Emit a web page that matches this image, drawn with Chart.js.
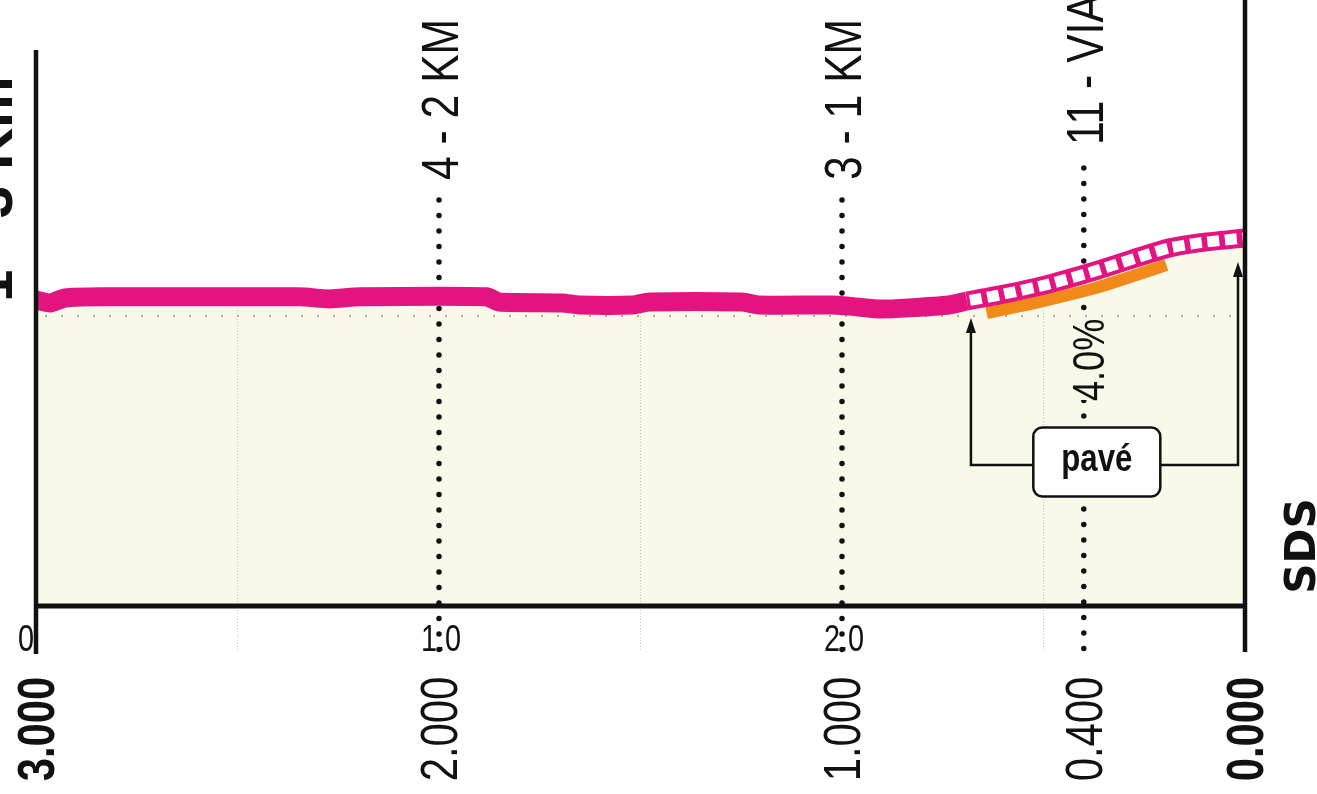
<!DOCTYPE html>
<html>
<head>
<meta charset="utf-8">
<script src="https://cdn.jsdelivr.net/npm/chart.js@4.4.1/dist/chart.umd.min.js"></script>
<style>
  html, body { margin: 0; padding: 0; background: #ffffff; }
  #wrap { width: 1317px; height: 794px; position: relative; }
</style>
</head>
<body>
<div id="wrap"><canvas id="c"></canvas></div>
<script>
// ---- data (distance from start in km, elevation in m) ----
const distKm = [0.000, 0.035, 0.072, 0.159, 0.654, 0.729, 0.803, 1.118, 1.150, 1.306, 1.348, 1.480, 1.522, 1.752, 1.794, 1.975, 2.017, 2.092, 2.166, 2.265, 2.310, 2.389, 2.513, 2.637, 2.761, 2.810, 2.885, 3.000];
const elevM  = [105.5, 104.5, 106.2, 106.6, 106.6, 105.9, 106.6, 106.6, 104.8, 104.5, 103.8, 103.8, 104.8, 104.8, 103.8, 103.8, 103.4, 102.4, 102.8, 103.8, 105.2, 107.2, 111.0, 115.9, 121.4, 123.4, 125.2, 126.9];
const paveStartIdx = 20;                       // cobbles (pavé) from this point to the finish
const gradeKm   = [2.359, 2.488, 2.637, 2.805];  // gradient indicator segment
const gradeElev = [101.0, 104.8, 110.0, 117.6];
const gradeText = "4.0%";
const paveText  = "pavé";
const markerKm     = [1.0, 2.0, 2.6];
const markerLabels = ["4 - 2 KM", "3 - 1 KM", "11 - VIA"];
const toGoKm       = [3.0, 2.0, 1.0, 0.4, 0.0];
const kmTickValues = [0, 1, 2];
const kmTickLabels = ["0", "1.0", "2.0"];
const halfKmGrid   = [0.5, 1.5, 2.5];
const elevGridLine = 100;
const totalKm = 3.0;
const sideTitle = "1 - 3 Km";
const logoText  = "SDS";

// ---- colours ----
const MAGENTA = '#e3137f';
const ORANGE  = '#f28a1a';
const CREAM   = '#f9f9e9';

const pts = (xs, ys) => xs.map((x, i) => ({ x: x, y: ys[i] }));
const allPts   = pts(distKm, elevM);
const solidPts = allPts.slice(0, paveStartIdx + 1);
const pavePts  = allPts.slice(paveStartIdx);
const gradePts = pts(gradeKm, gradeElev);

const SANS = "'Liberation Sans', Arial, sans-serif";
const NARROW = 0.82;   // horizontal condensing factor (narrow face)

function rotText(ctx, text, x, y, font, align, cond) {
  ctx.save();
  ctx.translate(x, y);
  ctx.rotate(-Math.PI / 2);
  ctx.scale(cond, 1);
  ctx.font = font;
  ctx.fillStyle = '#111';
  ctx.textAlign = align;
  ctx.textBaseline = 'alphabetic';
  ctx.fillText(text, 0, 0);
  ctx.restore();
}

function flatText(ctx, text, x, y, font, align, cond) {
  ctx.save();
  ctx.translate(x, y);
  ctx.scale(cond, 1);
  ctx.font = font;
  ctx.fillStyle = '#111';
  ctx.textAlign = align;
  ctx.textBaseline = 'middle';
  ctx.fillText(text, 0, 0);
  ctx.restore();
}

function dotted(ctx, x1, y1, x2, y2, width, gap, color) {
  ctx.save();
  ctx.beginPath();
  ctx.setLineDash([0, gap]);
  ctx.lineCap = 'round';
  ctx.lineWidth = width;
  ctx.strokeStyle = color;
  ctx.moveTo(x1, y1);
  ctx.lineTo(x2, y2);
  ctx.stroke();
  ctx.restore();
}

function arrowUp(ctx, x, yTip) {
  ctx.beginPath();
  ctx.moveTo(x, yTip);
  ctx.lineTo(x - 5, yTip + 15);
  ctx.lineTo(x + 5, yTip + 15);
  ctx.closePath();
  ctx.fill();
}

const decor = {
  id: 'decor',
  afterDatasetDraw(chart, args) {
    if (args.index !== 0) return;            // right after the cream fill
    const ctx = chart.ctx, xs = chart.scales.x, ys = chart.scales.y;
    const yBase = ys.getPixelForValue(0);
    const gy = ys.getPixelForValue(elevGridLine);
    dotted(ctx, xs.getPixelForValue(0) + 10, gy, xs.getPixelForValue(totalKm) - 4, gy, 2.2, 16, '#9a9a90');
    halfKmGrid.forEach(k => {
      const x = xs.getPixelForValue(k);
      ctx.save();
      ctx.setLineDash([1, 2]);
      ctx.lineWidth = 1;
      ctx.strokeStyle = '#c4c4bc';
      ctx.beginPath();
      ctx.moveTo(x, gy - 6);
      ctx.lineTo(x, yBase + 46);
      ctx.stroke();
      ctx.restore();
    });
    markerKm.forEach((k, i) => {
      const x = xs.getPixelForValue(k);
      const top = i === 2 ? 168 : 200;
      dotted(ctx, x, top, x, yBase + 46, 5.5, 15.5, '#111');
    });
  },
  afterDatasetsDraw(chart) {
    const ctx = chart.ctx, xs = chart.scales.x, ys = chart.scales.y;
    const x0 = xs.getPixelForValue(0), x1 = xs.getPixelForValue(totalKm);
    const yBase = ys.getPixelForValue(0);
    ctx.save();
    ctx.strokeStyle = '#111';
    ctx.lineCap = 'butt';
    ctx.lineWidth = 5;
    ctx.beginPath(); ctx.moveTo(x0 - 2, yBase); ctx.lineTo(x1 + 2, yBase); ctx.stroke();
    ctx.lineWidth = 4.5;
    ctx.beginPath(); ctx.moveTo(x0, 50); ctx.lineTo(x0, yBase + 48); ctx.stroke();
    ctx.beginPath(); ctx.moveTo(x1, 0); ctx.lineTo(x1, yBase + 46); ctx.stroke();
    ctx.restore();

    // gradient label on a cream patch hiding the dotted line
    const gx = xs.getPixelForValue(markerKm[2]);
    ctx.save();
    ctx.fillStyle = CREAM;
    ctx.fillRect(gx - 10, 318, 26, 82);
    ctx.restore();
    rotText(ctx, gradeText, gx + 20, 401, "44px " + SANS, 'left', NARROW);

    // pavé box and arrows
    const bx = gx + 13, by = 462, bw = 127, bh = 69;
    const lx = xs.getPixelForValue(distKm[paveStartIdx]) + 4;
    const rx = x1 - 7;
    const leftTip = ys.getPixelForValue(99.3), rightTip = ys.getPixelForValue(118.6);
    ctx.save();
    ctx.strokeStyle = '#111';
    ctx.fillStyle = '#111';
    ctx.lineWidth = 2.5;
    ctx.beginPath();
    ctx.moveTo(bx - bw / 2, by + 3); ctx.lineTo(lx, by + 3); ctx.lineTo(lx, leftTip + 10);
    ctx.moveTo(bx + bw / 2, by + 3); ctx.lineTo(rx, by + 3); ctx.lineTo(rx, rightTip + 10);
    ctx.stroke();
    arrowUp(ctx, lx, leftTip);
    arrowUp(ctx, rx, rightTip);
    ctx.beginPath();
    ctx.roundRect(bx - bw / 2, by - bh / 2, bw, bh, 9);
    ctx.fillStyle = '#ffffff';
    ctx.fill();
    ctx.lineWidth = 2.5;
    ctx.stroke();
    ctx.restore();
    flatText(ctx, paveText, bx, by - 1, "bold 38px " + SANS, 'center', NARROW);
  },
  afterDraw(chart) {
    const ctx = chart.ctx, xs = chart.scales.x, ys = chart.scales.y;
    const yBase = ys.getPixelForValue(0);
    markerKm.forEach((k, i) => {
      const x = xs.getPixelForValue(k);
      const bottom = i === 2 ? 145 : 180;
      rotText(ctx, markerLabels[i], x + 19, bottom, "52px " + SANS, 'left', NARROW);
    });
    kmTickValues.forEach((k, i) => {
      const x = xs.getPixelForValue(k);
      if (k === 0) flatText(ctx, kmTickLabels[i], x - 2, yBase + 35, "37px " + SANS, 'right', 0.78);
      else flatText(ctx, kmTickLabels[i], x + 2, yBase + 35, "37px " + SANS, 'center', 0.78);
    });
    toGoKm.forEach((t, i) => {
      const x = xs.getPixelForValue(totalKm - t);
      const bold = (i === 0 || i === toGoKm.length - 1);
      rotText(ctx, t.toFixed(3), x + 18, 729, (bold ? "bold " : "") + "51px " + SANS, 'center', NARROW);
    });
    rotText(ctx, sideTitle, 12, 302, "bold 58px " + SANS, 'left', 1);
    rotText(ctx, logoText, 1315, 546, "bold 42px 'DejaVu Sans', sans-serif", 'center', 1);
  }
};

new Chart(document.getElementById('c'), {
  type: 'line',
  data: {
    datasets: [
      { label: 'fill', data: allPts, borderWidth: 0, borderColor: 'rgba(0,0,0,0)', backgroundColor: CREAM, fill: 'origin', order: 5, tension: 0.2 },
      { label: 'grade', data: gradePts, borderColor: ORANGE, borderWidth: 12, fill: false, order: 4, tension: 0.2, borderCapStyle: 'butt' },
      { label: 'road', data: solidPts, borderColor: MAGENTA, borderWidth: 19, fill: false, order: 3, tension: 0.2, borderCapStyle: 'butt' },
      { label: 'pave', data: pavePts, borderColor: MAGENTA, borderWidth: 19, fill: false, order: 2, tension: 0.2, borderCapStyle: 'butt' },
      { label: 'paveInner', data: pavePts, borderColor: '#ffffff', borderWidth: 11, borderDash: [12, 5.5], borderDashOffset: -3, fill: false, order: 1, tension: 0.2, borderCapStyle: 'butt' }
    ]
  },
  options: {
    responsive: true,
    maintainAspectRatio: false,
    animation: false,
    layout: { padding: { left: 36, right: 72, top: 26, bottom: 188 } },
    elements: { point: { radius: 0, hoverRadius: 0 } },
    scales: {
      x: { type: 'linear', min: 0, max: totalKm, display: false },
      y: { min: 0, max: 200, display: false }
    },
    plugins: { legend: { display: false }, tooltip: { enabled: false } }
  },
  plugins: [decor]
});
</script>
</body>
</html>
